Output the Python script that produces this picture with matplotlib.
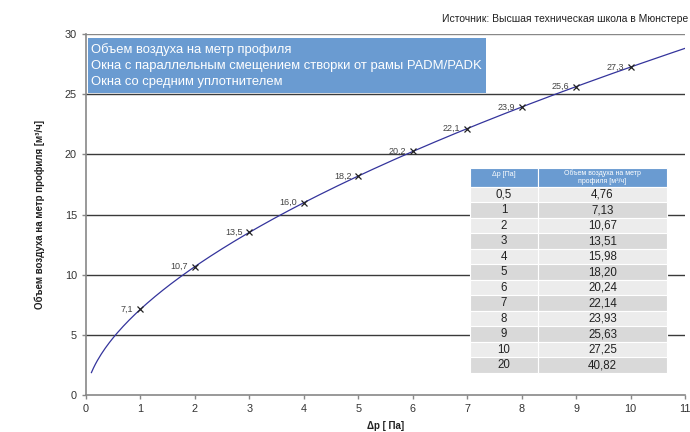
import numpy as np
import matplotlib
matplotlib.use("Agg")
import matplotlib.pyplot as plt
from matplotlib.patches import Rectangle

plt.rcParams['font.family'] = ['Liberation Sans', 'DejaVu Sans']

# Measured air flow per metre of profile
dp = [0.5, 1, 2, 3, 4, 5, 6, 7, 8, 9, 10, 20]
flow = [4.76, 7.13, 10.67, 13.51, 15.98, 18.20, 20.24, 22.14, 23.93, 25.63, 27.25, 40.82]

# Points marked on the curve
mark_dp = [1, 2, 3, 4, 5, 6, 7, 8, 9, 10]
mark_flow = [7.13, 10.67, 13.51, 15.98, 18.20, 20.24, 22.14, 23.93, 25.63, 27.25]

title = "Источник: Высшая техническая школа в Мюнстере"
box_lines = ["Объем воздуха на метр профиля",
             "Окна с параллельным смещением створки от рамы PADM/PADK",
             "Окна со средним уплотнителем"]
ylabel = "Объем воздуха на метр профиля [м³/ч]"
xlabel = "Δp [ Па]"
col_headers = ["Δp [Па]", "Объем воздуха на метр\nпрофиля [м³/ч]"]


def fmt(v, nd):
    return f"{v + 1e-9:.{nd}f}".replace('.', ',')


fig = plt.figure(figsize=(6.9, 4.32), dpi=100)
ax = fig.add_axes([0.1246, 0.0856, 0.8682, 0.8357])

# Power-law trend through the measurements
k, logc = np.polyfit(np.log(dp), np.log(flow), 1)
xs = np.linspace(0.1, 11, 300)
ax.plot(xs, np.exp(logc) * xs ** k, color='#34349c', lw=0.9, zorder=3)

ax.plot(mark_dp, mark_flow, linestyle='none', marker='x', ms=5, mew=0.9,
        color='#222222', zorder=4)
for x, y in zip(mark_dp, mark_flow):
    ax.annotate(fmt(y, 1), (x, y), xytext=(-5, 0), textcoords='offset points',
                ha='right', va='center', fontsize=6.5, color='#444444', zorder=4)

ax.set_xlim(0, 11)
ax.set_ylim(0, 30)
ax.set_xticks(range(0, 12))
ax.set_yticks(range(0, 31, 5))
for yv in range(5, 31, 5):
    ax.axhline(yv, color='#3a3a3a' if yv < 30 else '#888888', lw=1.0, zorder=1)

for s in ['top', 'right']:
    ax.spines[s].set_visible(False)
for s in ['left', 'bottom']:
    ax.spines[s].set_color('#888888')
    ax.spines[s].set_linewidth(1.2)
ax.tick_params(axis='both', labelsize=7.8, colors='#888888', labelcolor='#333333',
               length=3, width=1)

ax.set_ylabel(ylabel, fontsize=7, fontweight='bold', color='#222222', labelpad=14)
ax.set_xlabel(xlabel, fontsize=7, fontweight='bold', color='#222222', labelpad=5)

fig.text(0.998, 0.956, title, ha='right', va='center', fontsize=7.5, color='#222222')

# Caption box
ax.add_patch(Rectangle((0.0033, 0.8366), 0.665, 0.1524, transform=ax.transAxes,
                       facecolor='#6a9bd1', edgecolor='none', zorder=5))
for i, line in enumerate(box_lines):
    ax.text(0.008, 0.957 - i * 0.0445, line, transform=ax.transAxes, fontsize=9.35,
            color='white', va='center', ha='left', zorder=6)

# Data table
tx0, tw1, tw2 = 0.641, 0.1135, 0.2154
ty_top, th_head, th_row = 0.629, 0.0526, 0.0429
hdr_color = '#6a9bd1'
ax.add_patch(Rectangle((tx0, ty_top - th_head), tw1, th_head, transform=ax.transAxes,
                       facecolor=hdr_color, edgecolor='white', lw=0.8, zorder=5))
ax.add_patch(Rectangle((tx0 + tw1, ty_top - th_head), tw2, th_head, transform=ax.transAxes,
                       facecolor=hdr_color, edgecolor='white', lw=0.8, zorder=5))
ax.text(tx0 + tw1 / 2, ty_top - th_head / 2 + 0.008, col_headers[0], transform=ax.transAxes,
        fontsize=5, color='white', ha='center', va='center', zorder=6)
ax.text(tx0 + tw1 + tw2 / 2, ty_top - th_head / 2, col_headers[1], transform=ax.transAxes,
        fontsize=5, color='white', ha='center', va='center', zorder=6, linespacing=1.3)
for i, (p, f) in enumerate(zip(dp, flow)):
    y0 = ty_top - th_head - (i + 1) * th_row
    c = '#ececec' if i % 2 == 0 else '#d9d9d9'
    ax.add_patch(Rectangle((tx0, y0), tw1, th_row, transform=ax.transAxes,
                           facecolor=c, edgecolor='white', lw=0.8, zorder=5))
    ax.add_patch(Rectangle((tx0 + tw1, y0), tw2, th_row, transform=ax.transAxes,
                           facecolor=c, edgecolor='white', lw=0.8, zorder=5))
    ptxt = fmt(p, 1) if p != int(p) else str(int(p))
    ax.text(tx0 + tw1 / 2, y0 + th_row / 2, ptxt, transform=ax.transAxes,
            fontsize=8.3, color='#222222', ha='center', va='center', zorder=6)
    ax.text(tx0 + tw1 + tw2 / 2, y0 + th_row / 2, fmt(f, 2), transform=ax.transAxes,
            fontsize=8.3, color='#222222', ha='center', va='center', zorder=6)

fig.savefig("out.png", dpi=100)
